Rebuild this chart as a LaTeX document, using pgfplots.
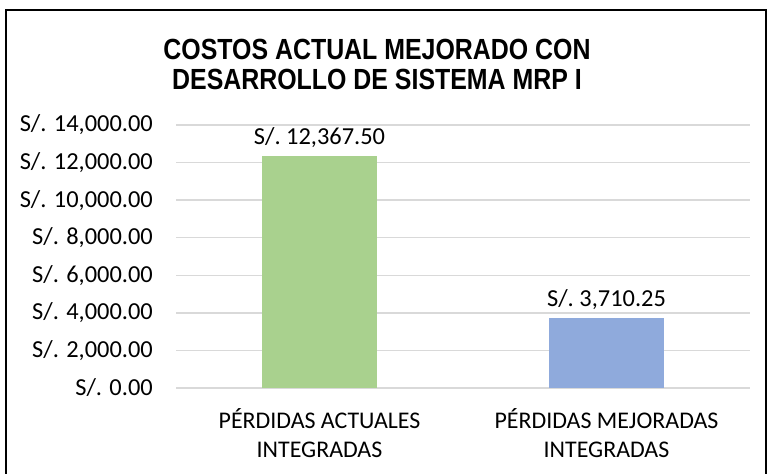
\documentclass[border=0pt]{standalone}
\usepackage{pgfplots}
\pgfplotsset{compat=1.18}
\usepackage{fontspec}
\setmainfont{Carlito}
\newfontfamily\titlefont{Liberation Sans}
\definecolor{gridgray}{HTML}{D9D9D9}
\definecolor{bargreen}{HTML}{A9D18E}
\definecolor{barblue}{HTML}{8FAADC}

\begin{document}
\begin{tikzpicture}[x=1bp,y=1bp]
  \path[use as bounding box] (0,0) rectangle (767,-474);
  \draw[line width=1.5bp] (6,-10) rectangle (766,-480);
  % title looks vertically stretched in the original
  \node[align=center, font=\titlefont\bfseries\fontsize{25}{30}\selectfont] at (377,-49)
    {\scalebox{1}[1.17]{COSTOS ACTUAL MEJORADO CON}};
  \node[align=center, font=\titlefont\bfseries\fontsize{25}{30}\selectfont] at (377,-79)
    {\scalebox{1}[1.17]{DESARROLLO DE SISTEMA MRP I}};
  \begin{axis}[
      at={(176bp,-388bp)}, anchor=south west,
      scale only axis, width=574bp, height=263bp,
      xmin=-0.5, xmax=1.5, ymin=0, ymax=14000,
      scaled y ticks=false,
      axis line style={draw=none},
      major tick length=0pt,
      ymajorgrids, grid style={gridgray, line width=1.5bp},
      ytick={0,2000,4000,6000,8000,10000,12000,14000},
      yticklabels={{S/. 0.00},{S/. 2,000.00},{S/. 4,000.00},{S/. 6,000.00},{S/. 8,000.00},{S/. 10,000.00},{S/. 12,000.00},{S/. 14,000.00}},
      yticklabel style={anchor=east, inner sep=0pt, xshift=-23bp, font=\fontsize{24.5}{29}\selectfont},
      xtick={0,1},
      xticklabels={{PÉRDIDAS ACTUALES\\INTEGRADAS},{PÉRDIDAS MEJORADAS\\INTEGRADAS}},
      xticklabel style={align=center, anchor=north, inner sep=0pt, yshift=-20bp, font=\fontsize{24}{29}\selectfont},
      ybar, bar width=0.4, bar shift=0pt,
      nodes near coords={S/.\ \pgfmathprintnumber[fixed,fixed zerofill,precision=2,1000 sep={,},assume math mode=true]{\pgfplotspointmeta}},
      nodes near coords style={font=\fontsize{24.5}{28}\selectfont, inner sep=0pt, anchor=south, yshift=8bp},
    ]
    \addplot[fill=bargreen, draw=none] coordinates {(0,12367.5)};
    \addplot[fill=barblue, draw=none] coordinates {(1,3710.25)};
  \end{axis}
\end{tikzpicture}
\end{document}
